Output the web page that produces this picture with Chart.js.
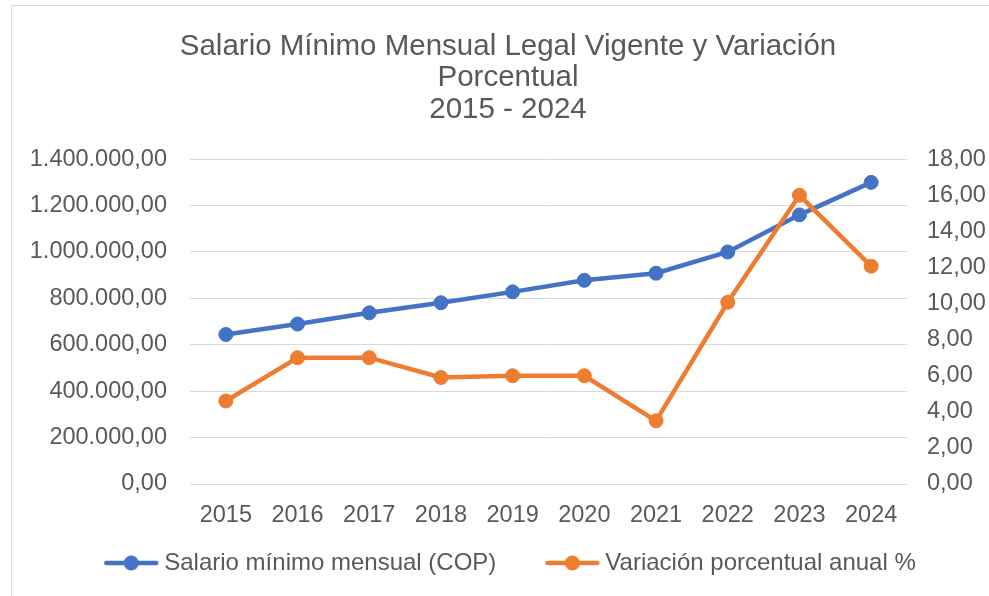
<!DOCTYPE html>
<html>
<head>
<meta charset="utf-8">
<script src="https://cdn.jsdelivr.net/npm/chart.js@4/dist/chart.umd.min.js"></script>
<style>
  html, body { margin: 0; padding: 0; background: #fff; overflow: hidden; }
  #wrap { position: relative; width: 989px; height: 596px; }
  #frame { position: absolute; left: 11px; top: 5px; width: 1000px; height: 620px; border: 1px solid #d9d9d9; box-sizing: border-box; }
  canvas { position: absolute; left: 0; top: 0; }
</style>
</head>
<body>
<div id="wrap">
  <div id="frame"></div>
  <canvas id="salarioChart" width="989" height="596"></canvas>
</div>
<script>
// Datos
const years = ['2015', '2016', '2017', '2018', '2019', '2020', '2021', '2022', '2023', '2024'];
const salario = [644350, 689455, 737717, 781242, 828116, 877803, 908526, 1000000, 1160000, 1300000];
const variacion = [4.6, 7.0, 7.0, 5.9, 6.0, 6.0, 3.5, 10.07, 16.0, 12.07];
const titleLines = ['Salario Mínimo Mensual Legal Vigente y Variación', 'Porcentual', '2015 - 2024'];
const seriesNames = ['Salario mínimo mensual (COP)', 'Variación porcentual anual %'];

const BLUE = '#4472C4';
const ORANGE = '#ED7D31';
const TEXT = '#595959';
const FONT = "'Liberation Sans', Arial, sans-serif";
const LEGEND_Y = 563;
const LEGEND_DX = 5;

// 1.400.000,00 style
function fmt(v) {
    const parts = Number(v).toFixed(2).split('.');
    return parts[0].replace(/\B(?=(\d{3})+(?!\d))/g, '.') + ',' + parts[1];
}

// Legend symbol: line with a dot
function makeSymbol(color) {
    const c = document.createElement('canvas');
    c.width = 56;
    c.height = 18;
    const ctx = c.getContext('2d');
    ctx.strokeStyle = color;
    ctx.lineWidth = 4.5;
    ctx.lineCap = 'round';
    ctx.beginPath();
    ctx.moveTo(3, 9);
    ctx.lineTo(53, 9);
    ctx.stroke();
    ctx.fillStyle = color;
    ctx.beginPath();
    ctx.arc(28, 9, 7.5, 0, Math.PI * 2);
    ctx.fill();
    return c;
}
const symbols = [makeSymbol(BLUE), makeSymbol(ORANGE)];

// Moves the legend row to where the reference has it
const legendShift = {
    id: 'legendShift',
    afterLayout(chart) {
        const lg = chart.legend;
        if (!lg) return;
        const size = lg.options.labels.font.size;
        const dy = LEGEND_Y - (lg.top + lg.options.labels.padding + size / 2);
        lg.top += dy;
        lg.bottom += dy;
        lg.left += LEGEND_DX;
        lg.right += LEGEND_DX;
    }
};

new Chart(document.getElementById('salarioChart'), {
    type: 'line',
    data: {
        labels: years,
        datasets: [{
            label: seriesNames[0],
            data: salario,
            yAxisID: 'y',
            borderColor: BLUE,
            backgroundColor: BLUE,
            borderWidth: 4.5,
            pointRadius: 7,
            pointBorderWidth: 1,
            pointBackgroundColor: BLUE,
            pointBorderColor: BLUE,
            tension: 0,
            order: 2
        }, {
            label: seriesNames[1],
            data: variacion,
            yAxisID: 'y1',
            borderColor: ORANGE,
            backgroundColor: ORANGE,
            borderWidth: 4.5,
            pointRadius: 7,
            pointBorderWidth: 1,
            pointBackgroundColor: ORANGE,
            pointBorderColor: ORANGE,
            tension: 0,
            order: 1
        }]
    },
    plugins: [legendShift],
    options: {
        responsive: false,
        animation: false,
        devicePixelRatio: 1,
        layout: { padding: { left: 27, right: 0, top: 0, bottom: -21 } },
        scales: {
            x: {
                offset: true,
                grid: { display: false },
                border: { display: false },
                ticks: { color: TEXT, font: { family: FONT, size: 23.5 }, padding: 9, maxRotation: 0, autoSkip: false },
                afterFit: function(axis) { axis.height = 44; }
            },
            y: {
                position: 'left',
                min: 0,
                max: 1400000,
                grid: { color: '#d9d9d9', lineWidth: 1, drawTicks: false },
                border: { display: false },
                ticks: {
                    stepSize: 200000,
                    color: TEXT,
                    font: { family: FONT, size: 23.5 },
                    padding: 23,
                    callback: function(value) { return fmt(value); }
                },
                afterFit: function(axis) { axis.width = 163; }
            },
            y1: {
                position: 'right',
                min: 0,
                max: 18,
                grid: { drawOnChartArea: false, drawTicks: false },
                border: { display: false },
                ticks: {
                    stepSize: 2,
                    color: TEXT,
                    font: { family: FONT, size: 23.5 },
                    padding: 20,
                    callback: function(value) { return fmt(value); }
                },
                afterFit: function(axis) { axis.width = 82; }
            }
        },
        plugins: {
            title: {
                display: true,
                text: titleLines,
                color: TEXT,
                font: { family: FONT, size: 29.5, weight: 'normal', lineHeight: 1.07 },
                padding: { top: 31, bottom: 33.5 }
            },
            legend: {
                display: true,
                position: 'bottom',
                labels: {
                    usePointStyle: true,
                    pointStyleWidth: 42,
                    padding: 55,
                    color: TEXT,
                    font: { family: FONT, size: 24 },
                    sort: function(a, b) { return a.datasetIndex - b.datasetIndex; },
                    generateLabels: function(chart) {
                        const items = Chart.defaults.plugins.legend.labels.generateLabels(chart);
                        items.forEach(function(item) {
                            item.pointStyle = symbols[item.datasetIndex];
                        });
                        return items;
                    }
                }
            },
            tooltip: { enabled: false }
        }
    }
});
</script>
</body>
</html>
